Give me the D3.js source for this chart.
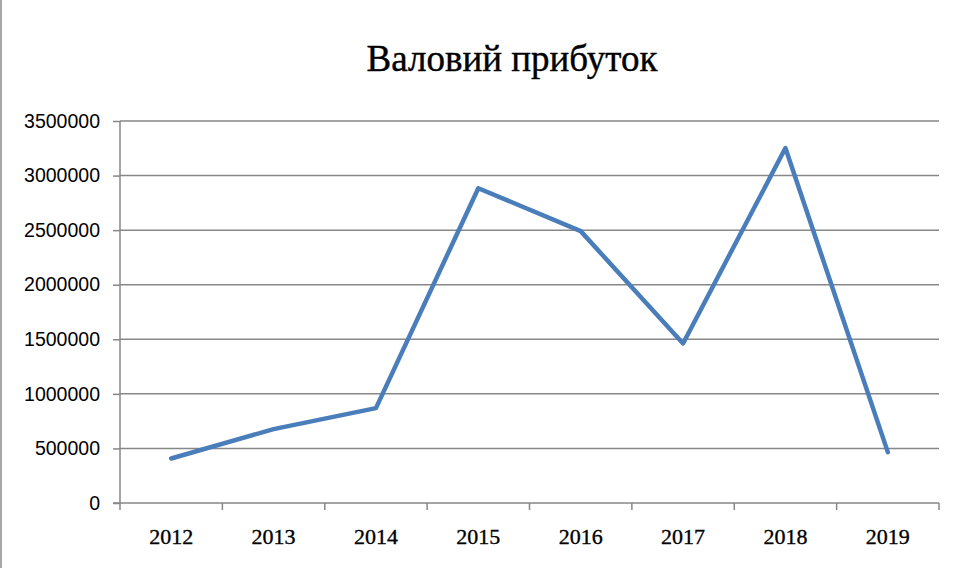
<!DOCTYPE html>
<html>
<head>
<meta charset="utf-8">
<script src="https://cdn.jsdelivr.net/npm/d3@7"></script>
<style>
  body { margin: 0; background: #fff; }
  svg { display: block; }
</style>
</head>
<body>
<svg></svg>
<script>
var width = 970;
var height = 568;
var margin = ({top: 121, right: 31, bottom: 65, left: 120});

// data
var years = ["2012", "2013", "2014", "2015", "2016", "2017", "2018", "2019"];
var profit = [408000, 677000, 869000, 2884000, 2491000, 1462000, 3252000, 466000];
var yTicks = [0, 500000, 1000000, 1500000, 2000000, 2500000, 3000000, 3500000];

var data = years.map((d, i) => ({year: d, value: profit[i]}));

var svg = d3.select("svg")
    .attr("width", width)
    .attr("height", height)
    .attr("viewBox", [0, 0, width, height]);

var x = d3.scaleBand()
    .domain(years)
    .range([margin.left, width - margin.right]);

var y = d3.scaleLinear()
    .domain([0, 3500000])
    .range([height - margin.bottom, margin.top]);

// left frame edge
svg.append("line")
    .attr("x1", 1).attr("x2", 1)
    .attr("y1", 0).attr("y2", height)
    .attr("stroke", "#8a8a8a")
    .attr("stroke-width", 1.5);

// title
svg.append("text")
    .attr("x", 512)
    .attr("y", 71)
    .attr("text-anchor", "middle")
    .style("font-family", "'Liberation Serif', serif")
    .style("font-size", "37px")
    .attr("fill", "#000")
    .attr("stroke", "#000")
    .attr("stroke-width", 0.4)
    .text("Валовий прибуток");

// gridlines
svg.append("g")
    .selectAll("line")
    .data(yTicks.slice(1))
    .join("line")
    .attr("x1", margin.left)
    .attr("x2", width - margin.right)
    .attr("y1", d => y(d))
    .attr("y2", d => y(d))
    .attr("stroke", "#878787")
    .attr("stroke-width", 1.5);

// y axis
var yAxis = svg.append("g")
    .attr("transform", `translate(${margin.left},0)`)
    .call(d3.axisLeft(y).tickValues(yTicks).tickSize(7).tickPadding(13).tickFormat(d3.format("d")));
yAxis.selectAll("line, path").attr("stroke", "#878787").attr("stroke-width", 1.5);
yAxis.select(".domain").attr("d", `M0,${y(3500000)}V${y(0)}`);
yAxis.selectAll("text")
    .style("font-family", "'Liberation Sans', Arial, sans-serif")
    .style("font-size", "19.5px")
    .attr("fill", "#000");

// x axis
var xAxis = svg.append("g")
    .attr("transform", `translate(0,${height - margin.bottom})`)
    .call(d3.axisBottom(x).tickSize(0).tickPadding(25));
xAxis.select(".domain").attr("d", `M${margin.left - 7},0H${width - margin.right}`)
    .attr("stroke", "#878787").attr("stroke-width", 1.5);
xAxis.selectAll("text")
    .style("font-family", "'Liberation Serif', serif")
    .style("font-size", "22px")
    .attr("fill", "#000")
    .attr("stroke", "#000")
    .attr("stroke-width", 0.35);

// category boundary ticks
var bounds = years.map(d => x(d)).concat([x(years[years.length - 1]) + x.bandwidth()]);
svg.append("g")
    .selectAll("line")
    .data(bounds)
    .join("line")
    .attr("x1", d => d).attr("x2", d => d)
    .attr("y1", y(0)).attr("y2", y(0) + 7)
    .attr("stroke", "#878787")
    .attr("stroke-width", 1.5);

// the line
var line = d3.line()
    .x(d => x(d.year) + x.bandwidth() / 2)
    .y(d => y(d.value));

svg.append("path")
    .datum(data)
    .attr("fill", "none")
    .attr("stroke", "#4a7ebb")
    .attr("stroke-width", 4.5)
    .attr("stroke-linejoin", "round")
    .attr("stroke-linecap", "round")
    .attr("d", line);
</script>
</body>
</html>
